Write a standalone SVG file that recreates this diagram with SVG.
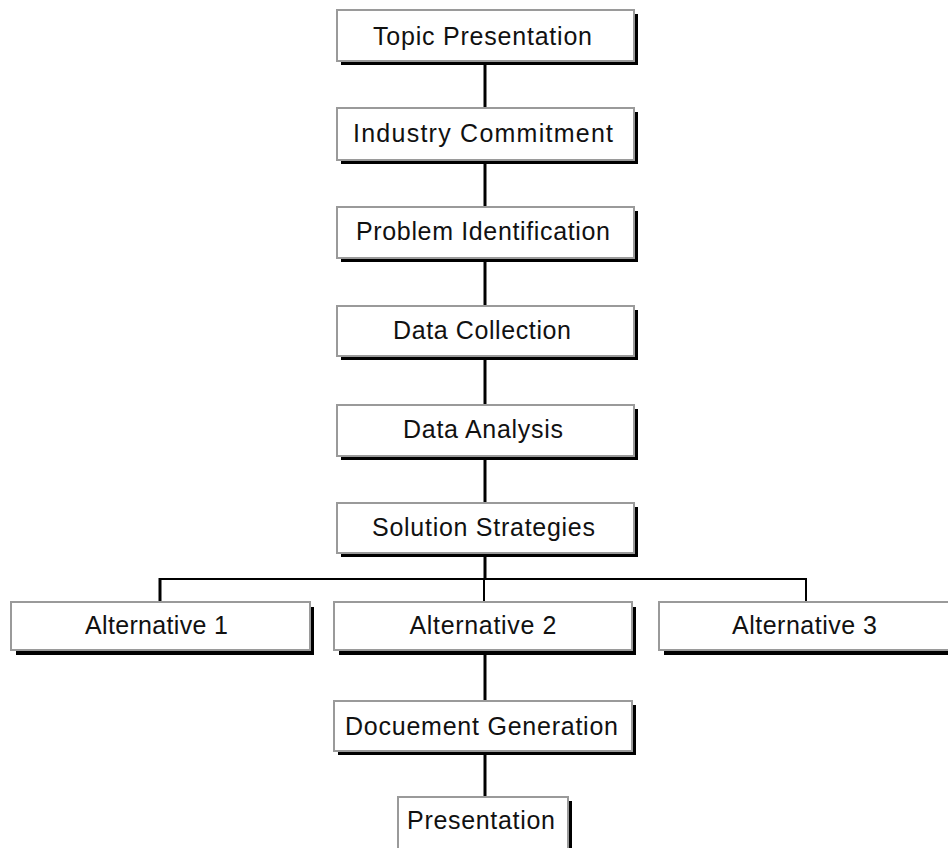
<svg xmlns="http://www.w3.org/2000/svg" width="948" height="848" viewBox="0 0 948 848">
<style>
.sh{fill:#000}
.bx{fill:#fff;stroke:#9a9a9a;stroke-width:2}
.t{font-family:"Liberation Sans",Arial,sans-serif;font-size:25px;fill:#111;text-anchor:middle}
.c{stroke:#000;fill:none}
</style>
<rect width="948" height="848" fill="#fff"/>
<g id="connectors">
<line class="c" stroke-width="3" x1="485" y1="61" x2="485" y2="108"/>
<line class="c" stroke-width="3" x1="485" y1="160" x2="485" y2="207"/>
<line class="c" stroke-width="3" x1="485" y1="258" x2="485" y2="306"/>
<line class="c" stroke-width="3" x1="485" y1="356" x2="485" y2="405"/>
<line class="c" stroke-width="3" x1="485" y1="456" x2="485" y2="503"/>
<line class="c" stroke-width="3" x1="485" y1="553" x2="485" y2="580"/>
<line class="c" stroke-width="2" x1="159" y1="579" x2="807" y2="579"/>
<line class="c" stroke-width="3" x1="160" y1="578" x2="160" y2="602"/>
<line class="c" stroke-width="2" x1="484" y1="579" x2="484" y2="602"/>
<line class="c" stroke-width="2" x1="806" y1="578" x2="806" y2="602"/>
<line class="c" stroke-width="3" x1="485" y1="650" x2="485" y2="701"/>
<line class="c" stroke-width="3" x1="485" y1="751" x2="485" y2="797"/>
</g>
<g id="topic">
<rect class="sh" x="341" y="14" width="297" height="51"/>
<rect class="bx" x="337" y="10" width="297" height="51"/>
<text class="t" x="482.5" y="45" textLength="219" lengthAdjust="spacing">Topic Presentation</text>
</g>
<g id="industry">
<rect class="sh" x="341" y="112" width="297" height="52"/>
<rect class="bx" x="337" y="108" width="297" height="52"/>
<text class="t" x="483" y="142" textLength="260" lengthAdjust="spacing">Industry Commitment</text>
</g>
<g id="problem">
<rect class="sh" x="341" y="211" width="297" height="51"/>
<rect class="bx" x="337" y="207" width="297" height="51"/>
<text class="t" x="483" y="240" textLength="254" lengthAdjust="spacing">Problem Identification</text>
</g>
<g id="collection">
<rect class="sh" x="341" y="310" width="297" height="50"/>
<rect class="bx" x="337" y="306" width="297" height="50"/>
<text class="t" x="482" y="339" textLength="178" lengthAdjust="spacing">Data Collection</text>
</g>
<g id="analysis">
<rect class="sh" x="341" y="409" width="297" height="51"/>
<rect class="bx" x="337" y="405" width="297" height="51"/>
<text class="t" x="483" y="438" textLength="160" lengthAdjust="spacing">Data Analysis</text>
</g>
<g id="solution">
<rect class="sh" x="341" y="507" width="297" height="50"/>
<rect class="bx" x="337" y="503" width="297" height="50"/>
<text class="t" x="483.5" y="536" textLength="223" lengthAdjust="spacing">Solution Strategies</text>
</g>
<g id="alt1">
<rect class="sh" x="16" y="607" width="298" height="48"/>
<rect class="bx" x="11" y="602" width="299" height="48"/>
<text class="t" x="156.5" y="634" textLength="143" lengthAdjust="spacing">Alternative 1</text>
</g>
<g id="alt2">
<rect class="sh" x="339" y="607" width="297" height="48"/>
<rect class="bx" x="334" y="602" width="298" height="48"/>
<text class="t" x="483" y="634" textLength="147" lengthAdjust="spacing">Alternative 2</text>
</g>
<g id="alt3">
<rect class="sh" x="664" y="607" width="298" height="48"/>
<rect class="bx" x="659" y="602" width="298" height="48"/>
<text class="t" x="804.5" y="634" textLength="145" lengthAdjust="spacing">Alternative 3</text>
</g>
<g id="docgen">
<rect class="sh" x="338" y="705" width="298" height="50"/>
<rect class="bx" x="334" y="701" width="298" height="50"/>
<text class="t" x="481.5" y="735" textLength="273" lengthAdjust="spacing">Docuement Generation</text>
</g>
<g id="presentation">
<rect class="sh" x="402" y="801" width="170" height="60"/>
<rect class="bx" x="398" y="797" width="170" height="60"/>
<text class="t" x="481" y="829" textLength="148" lengthAdjust="spacing">Presentation</text>
</g>
</svg>
